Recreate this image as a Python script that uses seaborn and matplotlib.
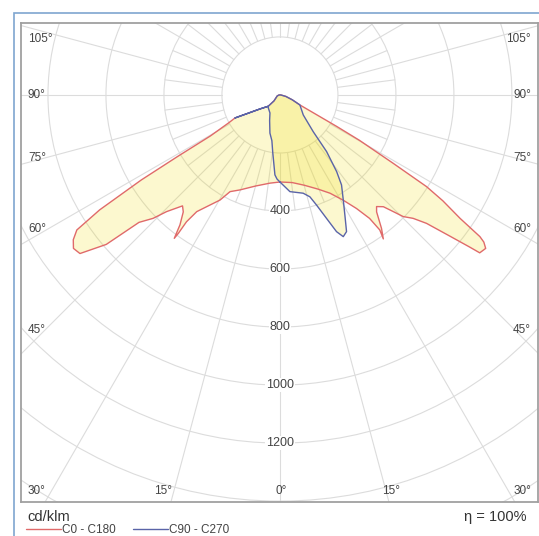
import matplotlib
matplotlib.use("Agg")
import matplotlib.pyplot as plt
from matplotlib.lines import Line2D
from matplotlib.patches import Circle, Rectangle
import numpy as np
import seaborn as sns

# luminous intensity distribution, cd/klm, gamma in degrees from nadir
c0_gamma = [0, 8, 15, 22, 27, 31, 34, 36, 36.5, 35.7, 37.3, 39.6, 40.9, 42.8, 44.2,
            45.4, 47.2, 48.8, 50.3, 51.3, 51.7, 53.3, 54.2, 54.7, 55.6, 57, 58, 58.9,
            60.3, 61, 63.4, 68.5, 76, 90]
c0_value = [300, 305, 322, 350, 380, 423, 472, 526, 579, 611, 578, 523, 509, 525, 561,
            597, 626, 672, 762, 839, 878, 885, 867, 845, 753, 670, 596, 456,
            316, 224, 77, 46, 21, 3]

c180_gamma = [0, 6.5, 15, 22.8, 27.3, 29.7, 33.3, 35.5, 36.4, 36.3, 36.4, 37.6, 39.6, 41.3,
              41.8, 44.2, 45.8, 47.9, 49.3, 51.6, 53.4, 55, 56.4, 57.5, 58.5, 59, 59.5,
              61.5, 62.9, 59.6, 55, 46, 45, 70, 90]
c180_value = [300, 306, 325, 355, 375, 417, 461, 494, 543, 592, 614, 565, 523, 509,
              517, 561, 610, 655, 790, 880, 887, 870, 841, 737, 561, 411, 278,
              200, 174, 120, 84, 56, 29, 10, 3]

c90_gamma = [0, 5.9, 13.3, 16.4, 18.4, 20.7, 22.5, 24.1, 26, 28.4, 31.1, 34.4, 36.5, 39.5,
             42.2, 49.4, 63.4, 68.5, 76, 90]
c90_value = [300, 335, 348, 366, 400, 455, 510, 535, 524, 471, 423, 376, 329, 253,
             171, 106, 77, 46, 21, 3]

c270_gamma = [0, 2, 3.6, 7.3, 10, 14.7, 22, 29, 42, 46, 55, 59.6, 62.9, 59.6, 55, 46, 45, 70, 90]
c270_value = [300, 290, 276, 197, 160, 136, 95, 71, 60, 56, 84, 120, 174, 120, 84, 56, 29, 10, 3]

radial_ticks = [400, 600, 800, 1000, 1200]
grid_circles = [200, 400, 600, 800, 1000, 1200, 1400, 1600, 1800]


def to_xy(gamma, value, side):
    g = np.radians(np.asarray(gamma, dtype=float))
    v = np.asarray(value, dtype=float)
    return side * v * np.sin(g), -v * np.cos(g)


def outline(g_right, v_right, g_left, v_left):
    xr, yr = to_xy(g_right, v_right, 1)
    xl, yl = to_xy(g_left, v_left, -1)
    return np.concatenate([xr, xl[::-1]]), np.concatenate([yr, yl[::-1]])


sns.set_style("white")
plt.rcParams["font.family"] = ["Liberation Sans", "DejaVu Sans"]

fig = plt.figure(figsize=(5.39, 5.36), dpi=100)
ax = fig.add_axes([21 / 539, 34 / 536, 517 / 539, 479 / 536])
ax.set_xlim(-893, 890)
ax.set_ylim(-1403, 248)

grid_kw = dict(color="#dcdcdc", lw=0.8, zorder=1)
for r in grid_circles:
    ax.add_patch(Circle((0, 0), r, fill=False, ec="#dcdcdc", lw=0.8, zorder=1))
for a in np.arange(0, 360, 7.5):
    t = np.radians(a)
    r0, r1 = (200, 2500) if a % 15 == 0 else (200, 400)
    ax.plot([r0 * np.sin(t), r1 * np.sin(t)], [-r0 * np.cos(t), -r1 * np.cos(t)], **grid_kw)

fill_kw = dict(color="#f0dc10", alpha=0.2, lw=0, zorder=2)
rx, ry = outline(c0_gamma, c0_value, c180_gamma, c180_value)
bx, by = outline(c90_gamma, c90_value, c270_gamma, c270_value)
ax.fill(rx, ry, **fill_kw)
ax.fill(bx, by, **fill_kw)
sns.lineplot(x=rx, y=ry, sort=False, estimator=None, color="#e06a6a", lw=1, ax=ax, zorder=3)
sns.lineplot(x=bx, y=by, sort=False, estimator=None, color="#5a64a8", lw=1, ax=ax, zorder=4)

for r in radial_ticks:
    ax.text(0, -r, str(r), ha="center", va="center", fontsize=9, color="#444444", zorder=5,
            bbox=dict(fc="white", ec="none", pad=0.6))

lab_kw = dict(fontsize=8.5, color="#444444", va="center", zorder=5)
for lab, y in [("105°", 193), ("90°", 0), ("75°", -217), ("60°", -462), ("45°", -810)]:
    ax.text(-869, y, lab, ha="left", **lab_kw)
    ax.text(866, y, lab, ha="right", **lab_kw)
ax.text(-869, -1366, "30°", ha="left", **lab_kw)
ax.text(-403, -1366, "15°", ha="center", **lab_kw)
ax.text(3, -1366, "0°", ha="center", **lab_kw)
ax.text(383, -1366, "15°", ha="center", **lab_kw)
ax.text(866, -1366, "30°", ha="right", **lab_kw)

ax.set_xticks([])
ax.set_yticks([])
for s in ax.spines.values():
    s.set_visible(True)
    s.set_color("#a0a0a0")
    s.set_linewidth(1.3)

fig.patches.append(Rectangle((14 / 539, -0.1), 1.2, 1 - 13 / 536 + 0.1, transform=fig.transFigure,
                             fill=False, ec="#7fa6cf", lw=1.2))

fig.text(27 / 539, 1 - 517 / 536, "cd/klm", ha="left", va="center", fontsize=10.5, color="#333333")
fig.text(527 / 539, 1 - 517 / 536, "η = 100%", ha="right", va="center", fontsize=10.5, color="#333333")

handles = [Line2D([], [], color="#e06a6a", lw=1), Line2D([], [], color="#5a64a8", lw=1)]
fig.legend(handles, ["C0 - C180", "C90 - C270"], ncol=2, frameon=False, fontsize=8.5,
           loc="center left", bbox_to_anchor=(21 / 539, 1 - 530 / 536), handlelength=3.0,
           handletextpad=0.1, columnspacing=1.4, borderaxespad=0, labelcolor="#444444")

fig.savefig("out.png", dpi=100)
